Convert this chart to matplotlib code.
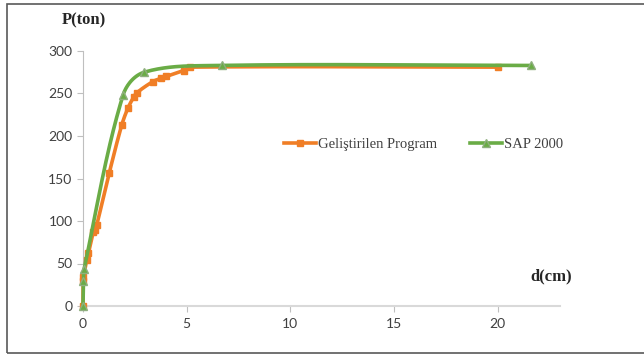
import numpy as np
import matplotlib
matplotlib.use("Agg")
import matplotlib.pyplot as plt
from matplotlib.lines import Line2D
from matplotlib.patches import Rectangle

# Load-displacement data
prog_d = [0.0, 0.0, 0.02, 0.18, 0.26, 0.50, 0.58, 0.66, 1.27, 1.87, 2.17, 2.45, 2.60,
          3.37, 3.77, 4.02, 4.85, 5.17, 20.0]
prog_p = [0, 30, 34, 54, 62, 87, 90, 95, 157, 213, 233, 246, 251,
          264, 268, 270, 277, 281, 281]

sap_d = [0.0, 0.02, 0.05, 1.93, 2.95, 6.70, 21.6]
sap_p = [0, 29, 43, 248, 275, 283, 283]

x_ticks = [0, 5, 10, 15, 20]
y_ticks = [0, 50, 100, 150, 200, 250, 300]

ORANGE = "#F07E26"
GREEN = "#6AAC46"

XMAX, YMAX = 23.0, 300.0


def smooth(xs, ys, kx, ky, n=40):
    """Piecewise cubic Bezier through the points (screen-scaled), with the
    handle length of each segment tied to that segment's own length."""
    pts = np.column_stack([np.asarray(xs, float) * kx, np.asarray(ys, float) * ky])
    keep = [0]
    for i in range(1, len(pts)):
        if np.hypot(*(pts[i] - pts[keep[-1]])) > 1e-6:
            keep.append(i)
    pts = pts[keep]
    m = len(pts)

    def unit(v):
        L = np.hypot(*v)
        return v / L if L > 0 else v

    tang = []
    for i in range(m):
        a = pts[max(i - 1, 0)]
        b = pts[min(i + 1, m - 1)]
        tang.append(unit(b - a))
    out = [pts[0]]
    t = np.linspace(0, 1, n)[1:, None]
    for i in range(m - 1):
        p1, p2 = pts[i], pts[i + 1]
        L = np.hypot(*(p2 - p1))
        c1 = p1 + tang[i] * L / 3
        c2 = p2 - tang[i + 1] * L / 3
        seg = ((1 - t) ** 3 * p1 + 3 * (1 - t) ** 2 * t * c1
               + 3 * (1 - t) * t ** 2 * c2 + t ** 3 * p2)
        out.extend(seg)
    out = np.array(out)
    return out[:, 0] / kx, out[:, 1] / ky


fig = plt.figure(figsize=(6.44, 3.54), dpi=100)
ax = fig.add_axes([83 / 644, 1 - 306 / 354, (560 - 83) / 644, (306 - 51) / 354])

# pixels per data unit on each axis
kx, ky = 20.72, 0.85
px, py = smooth(prog_d, prog_p, kx, ky)
gx, gy = smooth(sap_d, sap_p, kx, ky)

ax.plot(px, py, color=ORANGE, lw=2.6, solid_capstyle="round", zorder=3, clip_on=False)
ax.plot(prog_d, prog_p, ls="none", marker="s", ms=5, color=ORANGE, zorder=3, clip_on=False)
ax.plot(gx, gy, color=GREEN, lw=2.6, solid_capstyle="round", zorder=4, clip_on=False)
ax.plot(sap_d, sap_p, ls="none", marker="^", ms=6, color=GREEN, mec="#8FAF7F",
        zorder=4, clip_on=False)

ax.set_xlim(0, XMAX)
ax.set_ylim(0, YMAX)
ax.set_xticks(x_ticks)
ax.set_yticks(y_ticks)
for s in ["top", "right"]:
    ax.spines[s].set_visible(False)
ax.spines["left"].set_color("#BFBFBF")
ax.spines["bottom"].set_color("#D9D9D9")
ax.spines["bottom"].set_linewidth(1.5)
ax.tick_params(axis="both", colors="#BFBFBF", length=4, width=0.8, labelsize=10,
               labelcolor="#404040")
ax.tick_params(axis="x", pad=5)
for lab in ax.get_xticklabels() + ax.get_yticklabels():
    lab.set_fontfamily("Lato")

fig.text(62 / 644, 1 - 20 / 354, "P(ton)", fontfamily="Liberation Serif", fontweight="bold",
         fontsize=12, color="#262626", va="center", ha="left")
fig.text(530 / 644, 1 - 276 / 354, "d(cm)", fontfamily="Liberation Serif", fontweight="bold",
         fontsize=12, color="#262626", va="center", ha="left")

handles = [
    Line2D([], [], color=ORANGE, lw=2.6, marker="s", ms=5),
    Line2D([], [], color=GREEN, lw=2.6, marker="^", ms=6, mec="#8FAF7F"),
]
fig.legend(handles, ["Geliştirilen Program", "SAP 2000"], ncol=2, frameon=False,
           loc="center left", bbox_to_anchor=(271 / 644, 1 - 144 / 354),
           handlelength=2.2, handletextpad=0.1, columnspacing=2.3,
           prop={"family": "Liberation Serif", "size": 10.5}, labelcolor="#404040")

# outer frame of the chart area
fig.patches.append(Rectangle((7 / 644, 1 / 354), 1.2, 1 - 5 / 354, transform=fig.transFigure,
                             fill=False, edgecolor="#595959", lw=1.2))

fig.savefig("out.png", dpi=100)
